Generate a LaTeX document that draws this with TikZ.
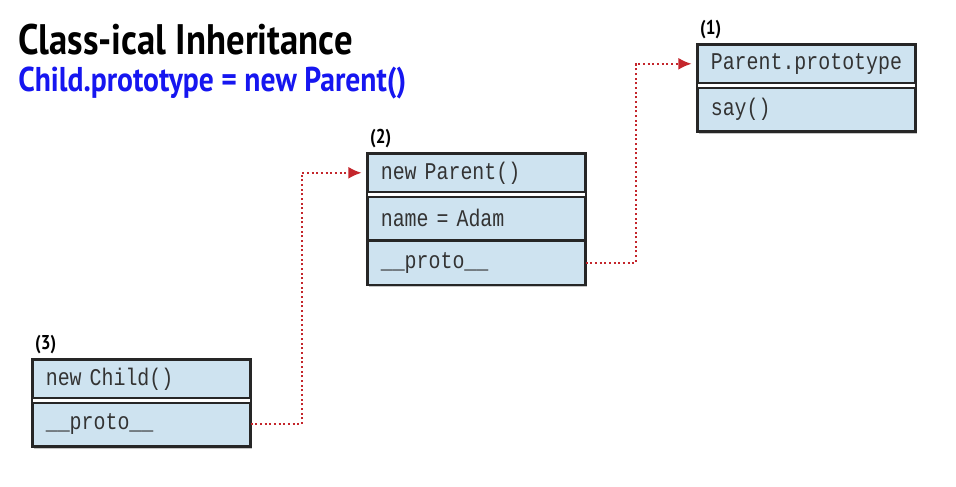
\documentclass[tikz,border=0pt]{standalone}
\usepackage{fontspec}
\setmainfont{Liberation Sans}
\newfontfamily\headfont[FakeStretch=0.86]{PT Sans}
\newfontfamily\codefont[FakeStretch=0.83]{Liberation Mono}
\usetikzlibrary{positioning,shadows,backgrounds,fit,arrows.meta}
\definecolor{cellblue}{RGB}{206,227,240}
\definecolor{linkred}{RGB}{196,38,44}
\definecolor{titleblue}{RGB}{22,22,240}

\tikzset{
  cell/.style={draw=black!85, line width=1.2pt, fill=cellblue,
    text width=143.25pt, inner xsep=9.75pt, inner ysep=0pt, align=left,
    font=\codefont\fontsize{18}{20}\selectfont, text=black!80},
  headcell/.style={cell, minimum height=28.5pt},
  bodycell/.style={cell, minimum height=32.25pt},
  frame/.style={draw=black!85, line width=1.6pt, fill=white, inner sep=0pt,
    drop shadow={shadow xshift=1.2pt, shadow yshift=-1.5pt, opacity=0.45}},
  tag/.style={anchor=south west, inner sep=0pt, font=\headfont\bfseries\fontsize{15}{17}\selectfont},
  link/.style={linkred, line width=1.5pt, dotted, -{Latex[length=10pt,width=9pt]}, shorten >=4pt}
}

\begin{document}
\begin{tikzpicture}[x=0.75pt, y=-0.75pt]
\useasboundingbox (0,0) rectangle (956,486);
% headline
\node[anchor=west, inner sep=0pt, font=\headfont\bfseries\fontsize{32}{35}\selectfont] (title) at (18,40) {Class-ical Inheritance};
\node[anchor=west, inner sep=0pt, font=\headfont\bfseries\fontsize{25.8}{28}\selectfont, text=titleblue] (subtitle) at (18,83) {Child.prototype = new Parent()};

% (1) Parent.prototype
\node[headcell, anchor=north west] (p1head) at (697,44) {Parent.prototype};
\node[bodycell, below=2.65pt of p1head] (p1say) {say()};

% (2) new Parent()
\node[headcell, anchor=north west] (p2head) at (367,153) {new Parent()};
\node[bodycell, below=2.65pt of p2head] (p2name) {name = Adam};
\node[bodycell, below=0pt of p2name] (p2proto) {\_\_proto\_\_};

% (3) new Child()
\node[headcell, anchor=north west] (p3head) at (32,359) {new Child()};
\node[bodycell, below=2.65pt of p3head] (p3proto) {\_\_proto\_\_};

% outer frames
\begin{scope}[on background layer]
  \node[frame, fit=(p1head)(p1say)] (box1) {};
  \node[frame, fit=(p2head)(p2proto)] (box2) {};
  \node[frame, fit=(p3head)(p3proto)] (box3) {};
\end{scope}

% tags
\node[tag] (tag1) at ([xshift=3pt,yshift=3pt]box1.north west) {(1)};
\node[tag] (tag2) at ([xshift=3pt,yshift=3pt]box2.north west) {(2)};
\node[tag] (tag3) at ([xshift=3pt,yshift=3pt]box3.north west) {(3)};

% prototype links
\draw[link] (p3proto.east) -- ++(51,0) |- (p2head.west);
\draw[link] (p2proto.east) -- ++(50,0) |- (p1head.west);
\end{tikzpicture}
\end{document}
